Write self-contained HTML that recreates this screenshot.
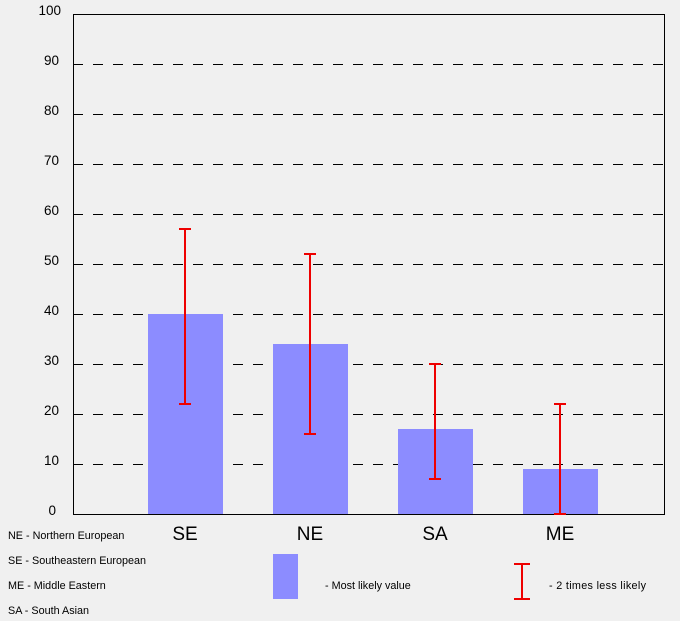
<!DOCTYPE html>
<html><head><style>body{margin:0;background:#f0f0f0}svg{display:block}</style></head><body>
<svg width="680" height="621" xmlns="http://www.w3.org/2000/svg" font-family="Liberation Sans, sans-serif">
<rect width="680" height="621" fill="#f0f0f0"/>
<g stroke="#000" stroke-width="1" stroke-dasharray="10,10">
<line x1="73" y1="64.5" x2="665" y2="64.5"/><line x1="73" y1="114.5" x2="665" y2="114.5"/>
<line x1="73" y1="164.5" x2="665" y2="164.5"/><line x1="73" y1="214.5" x2="665" y2="214.5"/>
<line x1="73" y1="264.5" x2="665" y2="264.5"/><line x1="73" y1="314.5" x2="665" y2="314.5"/>
<line x1="73" y1="364.5" x2="665" y2="364.5"/><line x1="73" y1="414.5" x2="665" y2="414.5"/>
<line x1="73" y1="464.5" x2="665" y2="464.5"/>
</g>
<rect x="73.5" y="14.5" width="591" height="500" fill="none" stroke="#000"/>
<g font-size="13.5" fill="#000" text-anchor="end">
<text x="61" y="15">100</text><text x="59" y="65">90</text><text x="59" y="115">80</text><text x="59" y="165">70</text><text x="59" y="215">60</text><text x="59" y="265">50</text><text x="59" y="315">40</text><text x="59" y="365">30</text><text x="59" y="415">20</text><text x="59" y="465">10</text><text x="56" y="515">0</text>
</g>
<g fill="#8c8cff">
<rect x="148" y="314" width="75" height="200"/><rect x="273" y="344" width="75" height="170"/>
<rect x="398" y="429" width="75" height="85"/><rect x="523" y="469" width="75" height="45"/>
<rect x="273" y="554" width="25" height="45"/>
</g>
<g stroke="#ee0000" stroke-width="2">
<path d="M185 229V404M179 229H191M179 404H191"/>
<path d="M310 254V434M304 254H316M304 434H316"/>
<path d="M435 364V479M429 364H441M429 479H441"/>
<path d="M560 404V514M554 404H566M554 514H566"/>
<path d="M522 564V599M514 564H530M514 599H530"/>
</g>
<g font-size="19" text-anchor="middle"><text x="185" y="540">SE</text><text x="310" y="540">NE</text><text x="435" y="540">SA</text><text x="560" y="540">ME</text></g>
<g font-size="10.8">
<text x="8" y="539">NE - Northern European</text><text x="8" y="564">SE - Southeastern European</text>
<text x="8" y="589">ME - Middle Eastern</text><text x="8" y="614">SA - South Asian</text>
<text x="325" y="589">- Most likely value</text><text x="549" y="589" textLength="97">- 2 times less likely</text>
</g>
</svg>
</body></html>
